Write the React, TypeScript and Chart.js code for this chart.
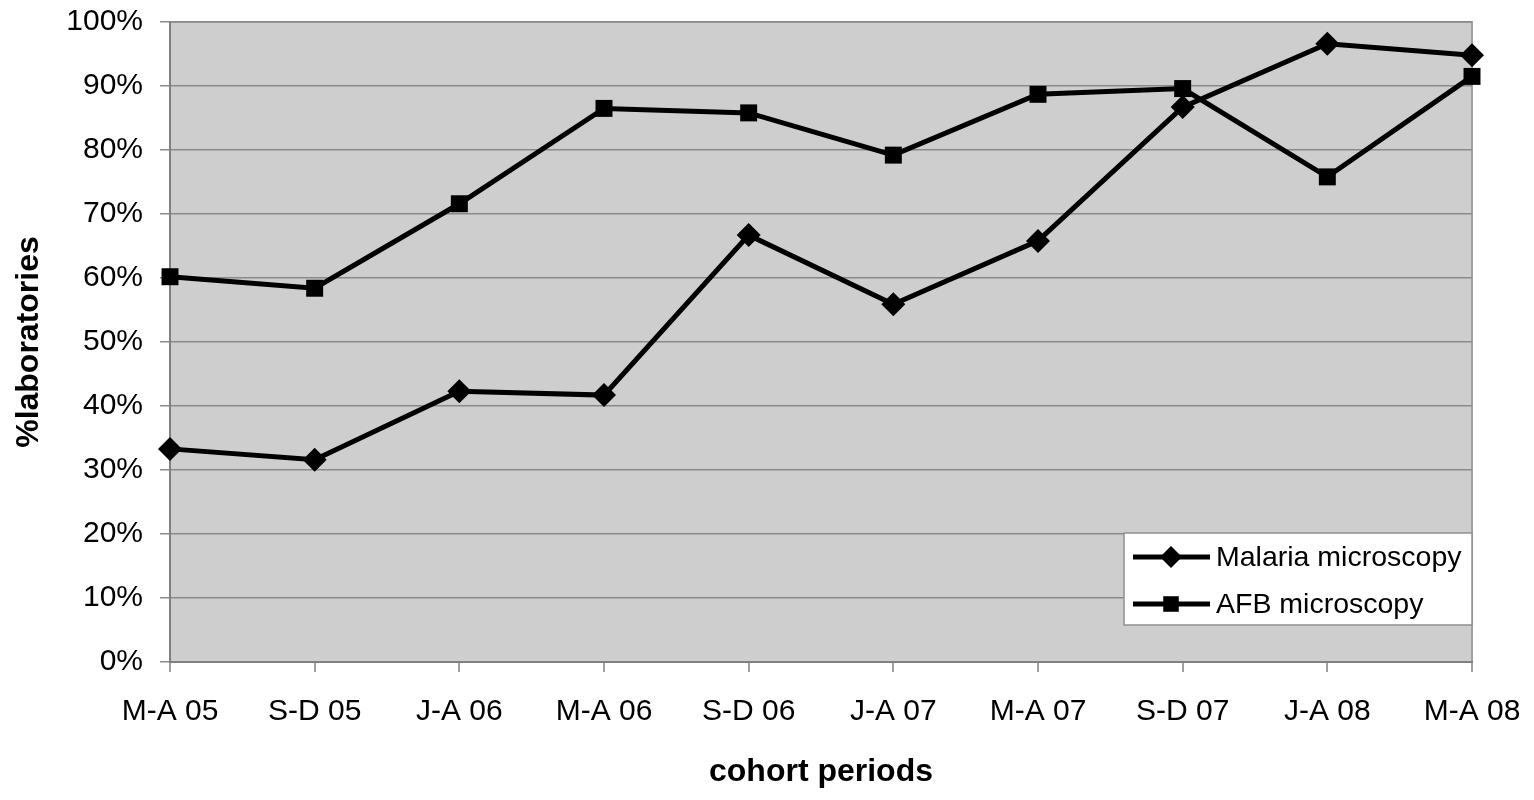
import { useEffect, useRef } from "react";
import { Chart, registerables, type Plugin } from "chart.js";
import { drawPoint } from "chart.js/helpers";

Chart.register(...registerables);

const periods = [
  "M-A 05",
  "S-D 05",
  "J-A 06",
  "M-A 06",
  "S-D 06",
  "J-A 07",
  "M-A 07",
  "S-D 07",
  "J-A 08",
  "M-A 08"
];
const malaria = [33.3, 31.6, 42.3, 41.7, 66.7, 55.9, 65.8, 86.7, 96.6, 94.8];
const afb = [60.2, 58.4, 71.6, 86.5, 85.8, 79.2, 88.7, 89.6, 75.8, 91.5];

const FONT = "Arial, 'Liberation Sans', sans-serif";

// grey plot background + white legend box inside the lower right corner
const plotBox: Plugin<"line"> = {
  id: "plotBox",
  beforeDraw(chart) {
    const { ctx, chartArea: a } = chart;
    ctx.save();
    ctx.fillStyle = "#cecece";
    ctx.fillRect(a.left, a.top, a.right - a.left, a.bottom - a.top);
    ctx.strokeStyle = "#a0a0a0";
    ctx.lineWidth = 2;
    ctx.beginPath();
    ctx.moveTo(a.left, a.top);
    ctx.lineTo(a.right, a.top);
    ctx.lineTo(a.right, a.bottom);
    ctx.stroke();
    ctx.restore();
  },
  afterDraw(chart) {
    const { ctx, chartArea: a } = chart;
    const w = 348;
    const h = 92;
    const x = a.right - w;
    const y = a.bottom - 129;
    ctx.save();
    ctx.fillStyle = "#ffffff";
    ctx.fillRect(x, y, w, h);
    ctx.strokeStyle = "#909090";
    ctx.lineWidth = 1.5;
    ctx.strokeRect(x, y, w, h);
    const rows = [
      { label: "Malaria microscopy", style: "rectRot", r: 11 },
      { label: "AFB microscopy", style: "rect", r: 11 }
    ];
    rows.forEach((row, i) => {
      const cy = y + 24 + i * 47;
      ctx.strokeStyle = "#000";
      ctx.lineWidth = 5;
      ctx.beginPath();
      ctx.moveTo(x + 9, cy);
      ctx.lineTo(x + 86, cy);
      ctx.stroke();
      ctx.fillStyle = "#000";
      ctx.strokeStyle = "#000";
      drawPoint(ctx, { pointStyle: row.style as any, radius: row.r, borderWidth: 0, rotation: 0 }, x + 47, cy);
      ctx.fillStyle = "#000";
      ctx.font = `28.5px ${FONT}`;
      ctx.textBaseline = "middle";
      ctx.textAlign = "left";
      ctx.fillText(row.label, x + 92, cy + 1);
    });
    ctx.restore();
  }
};

export default function App() {
  const canvasRef = useRef<HTMLCanvasElement | null>(null);

  useEffect(() => {
    document.body.style.margin = "0";
    if (!canvasRef.current) return;

    const chart = new Chart(canvasRef.current, {
      type: "line",
      data: {
        labels: periods,
        datasets: [
          {
            label: "Malaria microscopy",
            data: malaria,
            borderColor: "#000",
            backgroundColor: "#000",
            borderWidth: 5,
            pointStyle: "rectRot",
            pointRadius: 12,
            pointBorderWidth: 0,
            tension: 0
          },
          {
            label: "AFB microscopy",
            data: afb,
            borderColor: "#000",
            backgroundColor: "#000",
            borderWidth: 5,
            pointStyle: "rect",
            pointRadius: 12,
            pointBorderWidth: 0,
            tension: 0
          }
        ]
      },
      options: {
        animation: false,
        responsive: true,
        maintainAspectRatio: false,
        layout: {
          autoPadding: false,
          padding: { top: 22, right: 62, left: 0, bottom: 0 }
        },
        plugins: {
          legend: { display: false },
          tooltip: { enabled: false }
        },
        scales: {
          x: {
            offset: false,
            afterFit: (s: any) => {
              s.height = 138;
              s.paddingLeft = 0;
              s.paddingRight = 0;
            },
            border: { color: "#808080", width: 2 },
            grid: {
              drawOnChartArea: false,
              drawTicks: true,
              tickLength: 10,
              color: "#a0a0a0",
              lineWidth: 2
            },
            ticks: {
              color: "#000",
              font: { family: FONT, size: 30 },
              padding: 22,
              maxRotation: 0,
              autoSkip: false
            },
            title: {
              display: true,
              text: "cohort periods",
              color: "#000",
              font: { family: FONT, size: 32, weight: "bold" },
              padding: { top: 0, bottom: 9 }
            }
          },
          y: {
            min: 0,
            max: 100,
            afterFit: (s: any) => {
              s.width = 170;
              s.paddingTop = 0;
              s.paddingBottom = 0;
            },
            border: { color: "#808080", width: 2 },
            grid: {
              color: "#8a8a8a",
              lineWidth: 1.5,
              drawTicks: true,
              tickLength: 10
            },
            ticks: {
              stepSize: 10,
              color: "#000",
              font: { family: FONT, size: 30 },
              padding: 17,
              callback: (v) => `${v}%`
            },
            title: {
              display: true,
              text: "%laboratories",
              color: "#000",
              font: { family: FONT, size: 32, weight: "bold" },
              padding: { top: 10, bottom: 0 }
            }
          }
        }
      },
      plugins: [plotBox]
    });

    return () => chart.destroy();
  }, []);

  return (
    <div style={{ position: "relative", width: 1534, height: 800 }}>
      <canvas ref={canvasRef} />
    </div>
  );
}
